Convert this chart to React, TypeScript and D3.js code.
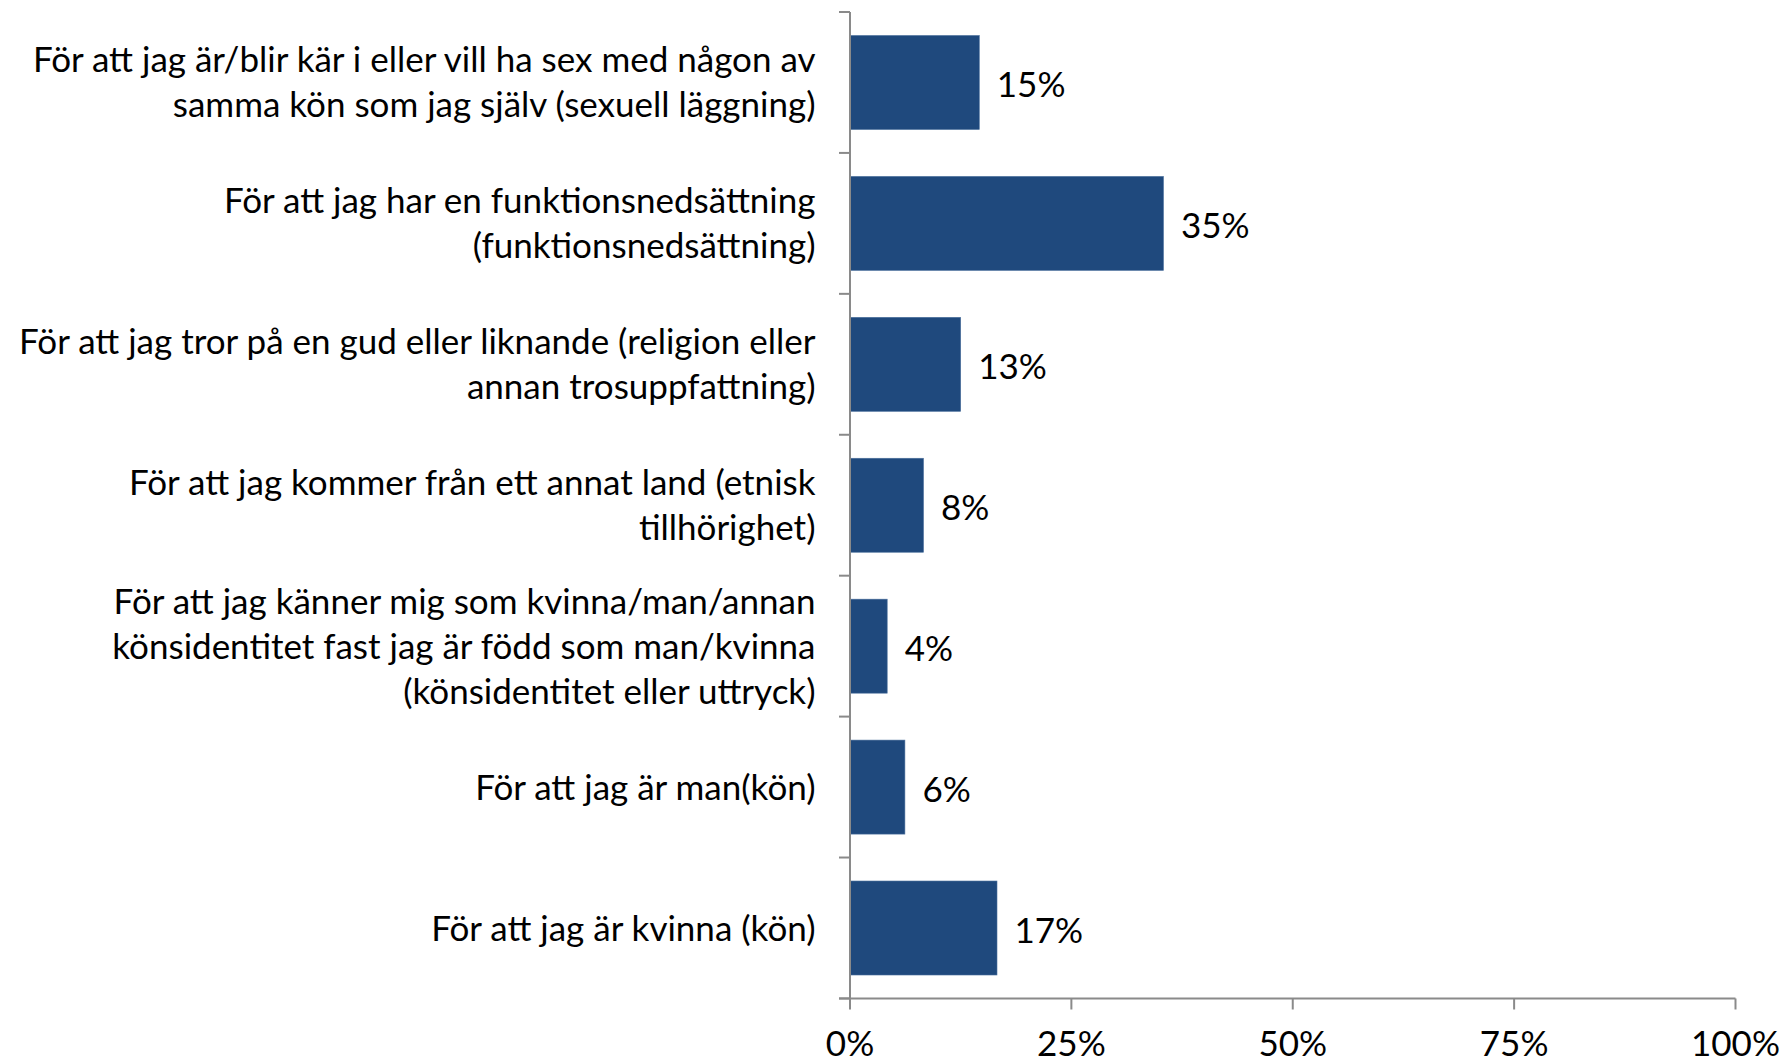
import * as d3 from 'd3';

const categories: string[][] = [
  ['För att jag är/blir kär i eller vill ha sex med någon av', 'samma kön som jag själv (sexuell läggning)'],
  ['För att jag har en funktionsnedsättning', '(funktionsnedsättning)'],
  ['För att jag tror på en gud eller liknande (religion eller', 'annan trosuppfattning)'],
  ['För att jag kommer från ett annat land (etnisk', 'tillhörighet)'],
  ['För att jag känner mig som kvinna/man/annan', 'könsidentitet fast jag är född som man/kvinna', '(könsidentitet eller uttryck)'],
  ['För att jag är man(kön)'],
  ['För att jag är kvinna (kön)'],
];
const values = [14.6, 35.4, 12.5, 8.3, 4.2, 6.2, 16.6];
const xTicks = [0, 25, 50, 75, 100];

const W = 1781, H = 1062;
const M = { l: 850, r: 1735.5, t: 12, b: 998.5 };
const FONT = 'Lato, "Open Sans", sans-serif';
const FS = 35, LH = 45, CAP = 12.5;

export default function App() {
  const x = d3.scaleLinear().domain([0, 100]).range([M.l, M.r]);
  const ids = categories.map((_, i) => String(i));
  const y = d3.scaleBand().domain(ids).range([M.t, M.b]).paddingInner(0.333).paddingOuter(0.1667);
  const step = y.step();
  const bounds = d3.range(categories.length + 1).map(i => M.t + i * step);
  const axisColor = '#8a8a8a';

  return (
    <svg width={W} height={H} style={{ position: 'absolute', left: 0, top: 0, background: '#fff' }}
      fontFamily={FONT}>
      {/* bars */}
      {values.map((v, i) => (
        <rect key={i} x={x(0)} y={y(ids[i])} width={x(v) - x(0)} height={y.bandwidth()}
          fill="#1f497d" stroke="#4a6f9c" strokeWidth={0.6} />
      ))}

      {/* value labels */}
      {values.map((v, i) => {
        const cy = (y(ids[i]) ?? 0) + y.bandwidth() / 2;
        return (
          <text key={i} x={x(v) + 17.5} y={cy + CAP + 2} fontSize={FS} fill="#000">
            {Math.round(v)}%
          </text>
        );
      })}

      {/* category labels */}
      {categories.map((lines, i) => {
        const cy = (y(ids[i]) ?? 0) + y.bandwidth() / 2;
        const y0 = cy - ((lines.length - 1) * LH) / 2;
        return lines.map((ln, j) => (
          <text key={`${i}-${j}`} x={815.5} y={y0 + j * LH + CAP} fontSize={FS} fill="#000" textAnchor="end">
            {ln}
          </text>
        ));
      })}

      {/* y axis */}
      <line x1={M.l} x2={M.l} y1={M.t} y2={M.b} stroke={axisColor} strokeWidth={2} />
      {bounds.map((b, i) => (
        <line key={i} x1={M.l - 11} x2={M.l} y1={b} y2={b} stroke={axisColor} strokeWidth={2} />
      ))}

      {/* x axis */}
      <line x1={M.l - 11} x2={M.r} y1={M.b} y2={M.b} stroke={axisColor} strokeWidth={2} />
      {xTicks.map(t => (
        <g key={t}>
          <line x1={x(t)} x2={x(t)} y1={M.b} y2={M.b + 11} stroke={axisColor} strokeWidth={2} />
          <text x={x(t)} y={1056} fontSize={FS} fill="#000" textAnchor="middle">{t}%</text>
        </g>
      ))}
    </svg>
  );
}
